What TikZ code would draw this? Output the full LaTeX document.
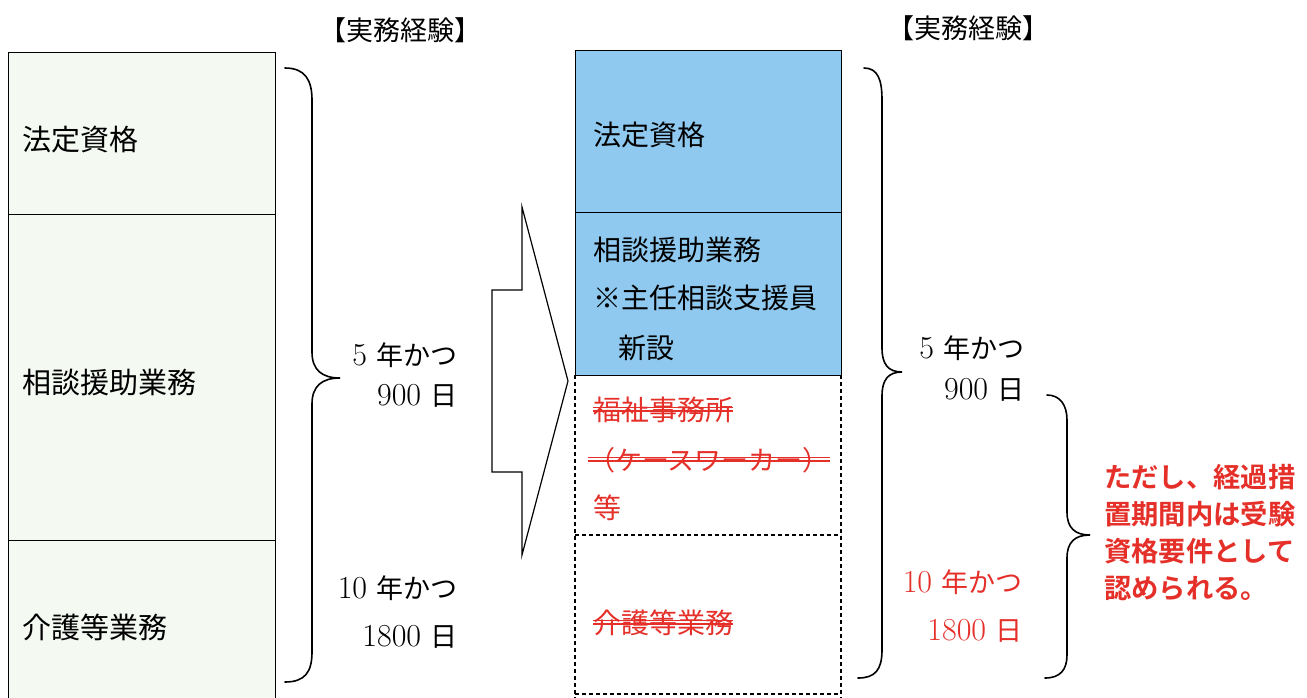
\documentclass[tikz,border=0pt]{standalone}
\usepackage{fontspec}
\newfontfamily\jp{Noto Sans CJK JP}
\newfontfamily\jpb{Noto Sans CJK JP Bold}
\newcommand\kn[1]{{\jp\fontsize{27}{30}\selectfont #1}}
\definecolor{lgreen}{HTML}{F4F9F2}
\definecolor{sky}{HTML}{8FC9EF}
\definecolor{rd}{HTML}{E5302A}
\tikzset{
  lbl/.style={anchor=west, inner sep=0pt, font=\jp\fontsize{29}{32}\selectfont},
  rlbl/.style={anchor=west, inner sep=0pt, font=\jp\fontsize{28}{32}\selectfont},
  num/.style={anchor=east, inner sep=0pt, font=\fontsize{32}{36}\selectfont},
  head/.style={inner sep=0pt, font=\jp\fontsize{27}{30}\selectfont},
  brace/.style={line width=1.6pt, line cap=round},
  dsh/.style={line width=1.3pt, dash pattern=on 4pt off 3pt},
  strike/.style={rd, line width=1.2pt},
  note/.style={anchor=west, inner sep=0pt, text=rd, align=left, font=\jpb\fontsize{27.3}{37}\selectfont}
}
\begin{document}
\begin{tikzpicture}[x=1pt,y=-1pt]
\useasboundingbox (0,0) rectangle (1307,697);
\clip (0,0) rectangle (1307,697);
\fill[white] (0,0) rectangle (1307,697);
% left column
\node[draw, line width=1.2pt, fill=lgreen, anchor=north west, minimum width=267pt, minimum height=162pt, inner sep=0pt] (L1) at (8,52) {};
\node[draw, line width=1.2pt, fill=lgreen, anchor=north west, minimum width=267pt, minimum height=326pt, inner sep=0pt] (L2) at (8,214) {};
\node[draw, line width=1.2pt, fill=lgreen, anchor=north west, minimum width=267pt, minimum height=200pt, inner sep=0pt] (L3) at (8,540) {};
\node[lbl] (t1) at (22,140) {法定資格};
\node[lbl] (t2) at (22,383) {相談援助業務};
\node[lbl] (t3) at (22,627) {介護等業務};
\node[head] (h1) at (400,30) {【実務経験】};
% left brace
\draw[brace] (285,68) .. controls (305,68) and (312,80) .. (312,100) -- (312,352) .. controls (312,370) and (322,378) .. (340,378) .. controls (322,378) and (312,386) .. (312,404) -- (312,652) .. controls (312,672) and (305,682) .. (285,682);
\node[num] (a1) at (458,355) {5 \kn{年かつ}};
\node[num] (a2) at (458,396) {900 \kn{日}};
\node[num] (a3) at (458,588) {10 \kn{年かつ}};
\node[num] (a4) at (458,637) {1800 \kn{日}};
% arrow
\draw[line width=1.2pt, fill=white, line join=miter] (522,207) -- (568,381) -- (522,555) -- (522,472) -- (492,472) -- (492,290) -- (522,290) -- cycle;
% right column
\node[draw, line width=1.2pt, fill=sky, anchor=north west, minimum width=266pt, minimum height=162pt, inner sep=0pt] (R1) at (575,50) {};
\node[draw, line width=1.2pt, fill=sky, anchor=north west, minimum width=266pt, minimum height=163pt, inner sep=0pt] (R2) at (575,212) {};
\coordinate (d1) at (575,375);
\coordinate (d2) at (841,375);
\coordinate (d3) at (575,535);
\coordinate (d4) at (841,535);
\coordinate (d5) at (575,694);
\coordinate (d6) at (841,694);
\coordinate (d7) at (575,700);
\coordinate (d8) at (841,700);
\draw[dsh] (d1) -- (d7);
\draw[dsh] (d2) -- (d8);
\draw[dsh] (d3) -- (d4);
\draw[dsh] (d5) -- (d6);
\node[rlbl] (r1) at (593,135) {法定資格};
\node[rlbl] (r2) at (593,250) {相談援助業務};
\node[rlbl] (r3) at (593,298) {※主任相談支援員};
\node[rlbl] (r4) at (618,348) {新設};
\node[rlbl, text=rd] (s1) at (593,410) {福祉事務所};
\node[rlbl, text=rd, font=\jp\fontsize{27}{30}\selectfont] (s2) at (588,460) {（ケースワーカー）};
\node[rlbl, text=rd] (s3) at (593,508) {等};
\node[rlbl, text=rd] (s4) at (593,623) {介護等業務};
\foreach \n in {s1,s2,s4}{
  \draw[strike] ([yshift=-1pt]\n.west) -- ([yshift=-1pt]\n.east);
  \draw[strike] ([yshift=2.5pt]\n.west) -- ([yshift=2.5pt]\n.east);
}
\node[head] (h2) at (968,28) {【実務経験】};
% right brace
\draw[brace] (864,68) .. controls (878,68) and (882,80) .. (882,100) -- (882,348) .. controls (882,364) and (888,372) .. (902,372) .. controls (888,372) and (882,380) .. (882,396) -- (882,650) .. controls (882,670) and (875,678) .. (858,678);
\node[num] (b1) at (1025,348) {5 \kn{年かつ}};
\node[num] (b2) at (1025,390) {900 \kn{日}};
\node[num, text=rd] (b3) at (1023,582) {10 \kn{年かつ}};
\node[num, text=rd] (b4) at (1023,631) {1800 \kn{日}};
% second brace
\draw[brace] (1047,395) .. controls (1060,395) and (1067,405) .. (1067,420) -- (1067,512) .. controls (1067,528) and (1075,535) .. (1090,535) .. controls (1075,535) and (1067,542) .. (1067,558) -- (1067,655) .. controls (1067,670) and (1060,678) .. (1045,678);
\node[note] (n1) at (1104,533) {ただし、経過措\\置期間内は受験\\資格要件として\\認められる。};
\end{tikzpicture}
\end{document}
